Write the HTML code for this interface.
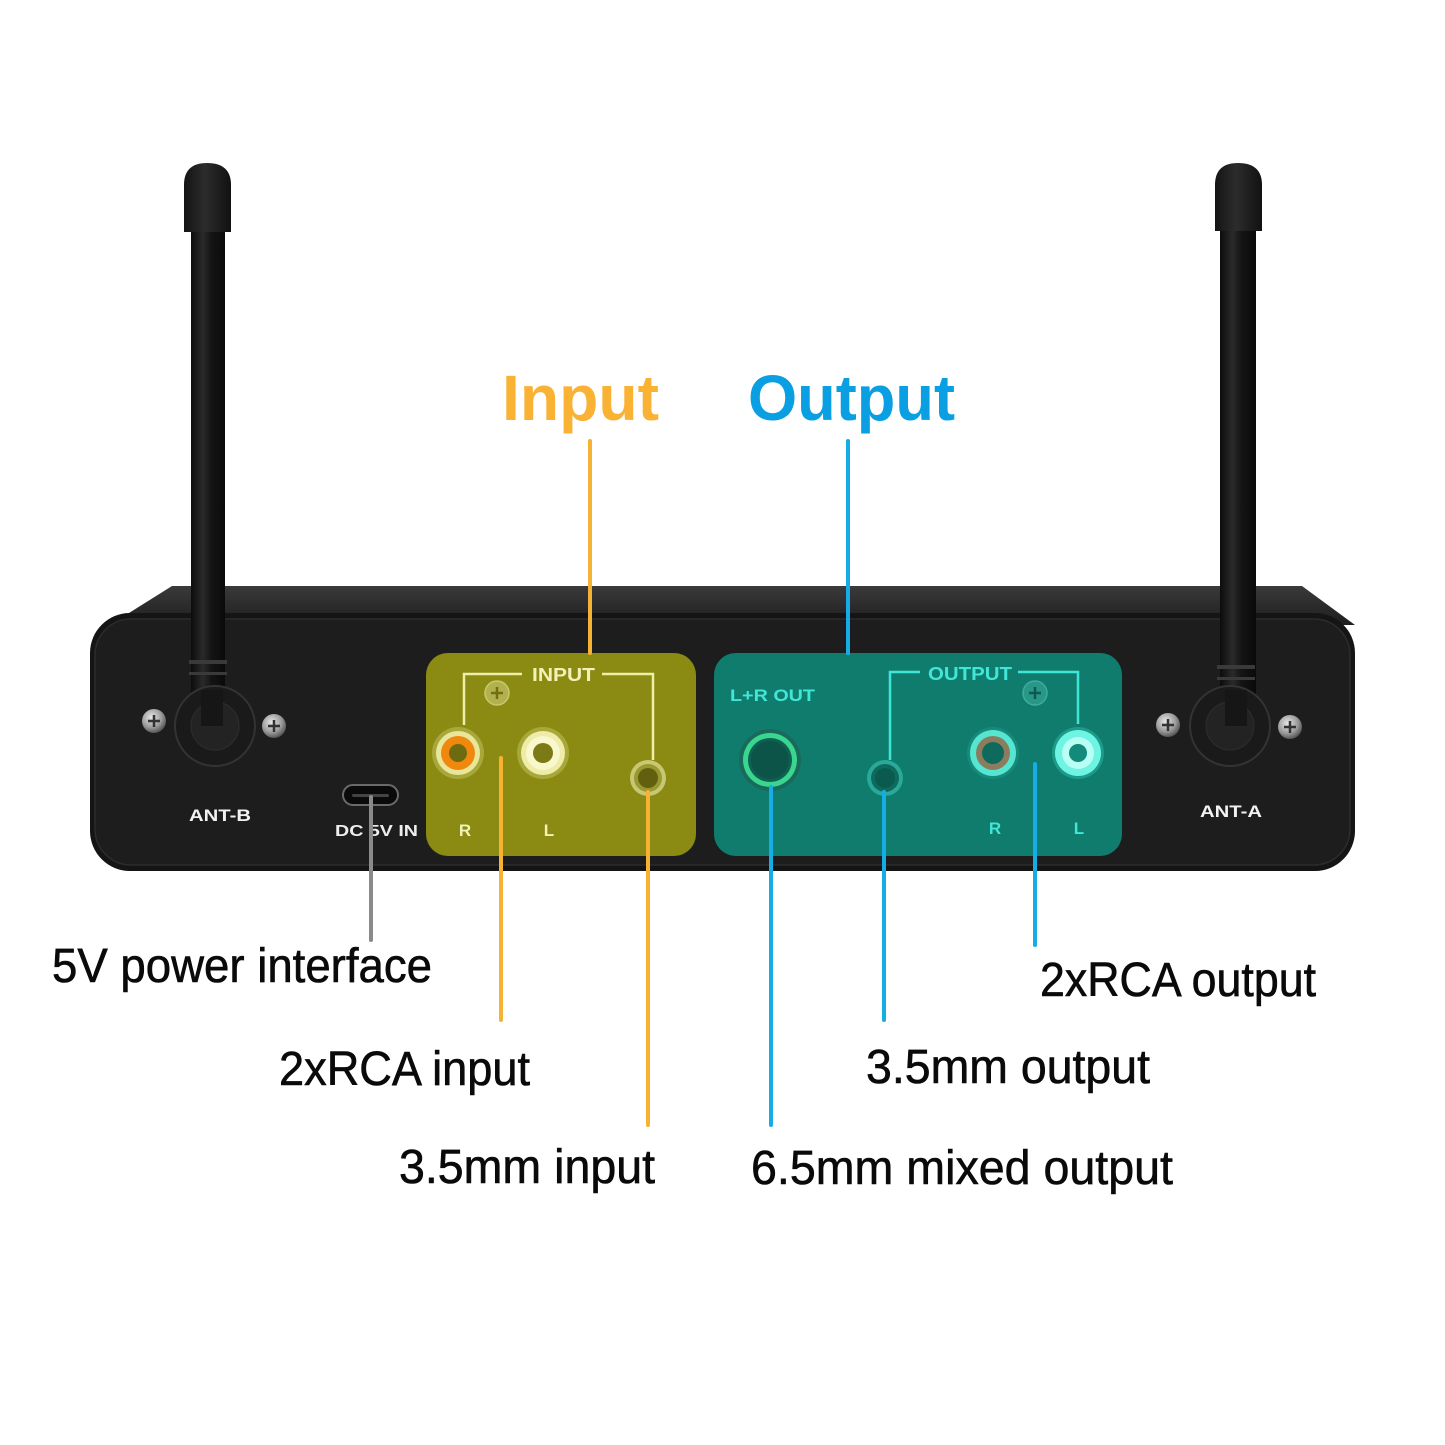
<!DOCTYPE html>
<html><head><meta charset="utf-8"><style>
html,body{margin:0;padding:0;background:#fff;}
svg{display:block;}
</style></head><body>
<svg width="1445" height="1445" viewBox="0 0 1445 1445" xmlns="http://www.w3.org/2000/svg">
<defs>
<linearGradient id="top" x1="0" y1="0" x2="0" y2="1"><stop offset="0" stop-color="#3a3a3a"/><stop offset="1" stop-color="#1e1e1e"/></linearGradient>
<linearGradient id="shaft" x1="0" y1="0" x2="1" y2="0"><stop offset="0" stop-color="#0c0c0c"/><stop offset="0.35" stop-color="#2a2a2a"/><stop offset="0.6" stop-color="#141414"/><stop offset="1" stop-color="#0a0a0a"/></linearGradient>
<linearGradient id="cap" x1="0" y1="0" x2="1" y2="0"><stop offset="0" stop-color="#141414"/><stop offset="0.45" stop-color="#2c2c2c"/><stop offset="1" stop-color="#111"/></linearGradient>
<radialGradient id="screw" cx="0.4" cy="0.35" r="0.7"><stop offset="0" stop-color="#e8e8e8"/><stop offset="0.6" stop-color="#9a9a9a"/><stop offset="1" stop-color="#4a4a4a"/></radialGradient>
</defs>
<rect width="1445" height="1445" fill="#fff"/>

<!-- device top surface -->
<polygon points="110,625 172,586 1302,586 1355,625" fill="url(#top)"/>
<!-- front face -->
<rect x="90" y="613" width="1265" height="258" rx="40" fill="#151515"/>
<rect x="95" y="619" width="1255" height="246" rx="36" fill="#1d1d1d" stroke="#2c2c2c" stroke-width="1.5"/>

<!-- antennas -->
<g>
<rect x="191" y="225" width="34" height="470" fill="url(#shaft)"/>
<path d="M184,232 L184,185 Q184,163 207,163 Q231,163 231,185 L231,232 Z" fill="url(#cap)"/>
<rect x="189" y="660" width="38" height="4" fill="#3a3a3a"/>
<rect x="189" y="672" width="38" height="3" fill="#3a3a3a"/>
<rect x="1220" y="225" width="36" height="470" fill="url(#shaft)"/>
<path d="M1215,231 L1215,185 Q1215,163 1238,163 Q1262,163 1262,185 L1262,231 Z" fill="url(#cap)"/>
<rect x="1217" y="665" width="38" height="4" fill="#3a3a3a"/>
<rect x="1217" y="677" width="38" height="3" fill="#3a3a3a"/>
</g>

<!-- antenna bases -->
<circle cx="215" cy="726" r="40" fill="#1a1a1a" stroke="#333" stroke-width="2"/>
<circle cx="215" cy="726" r="24" fill="#232323" stroke="#2e2e2e"/>
<rect x="201" y="690" width="22" height="36" fill="#161616"/>
<circle cx="1230" cy="726" r="40" fill="#1a1a1a" stroke="#333" stroke-width="2"/>
<circle cx="1230" cy="726" r="24" fill="#232323" stroke="#2e2e2e"/>
<rect x="1225" y="690" width="22" height="36" fill="#161616"/>

<!-- screws -->
<g>
<circle cx="154" cy="721" r="12" fill="url(#screw)"/>
<circle cx="274" cy="726" r="12" fill="url(#screw)"/>
<circle cx="1168" cy="725" r="12" fill="url(#screw)"/>
<circle cx="1290" cy="727" r="12" fill="url(#screw)"/>
<g stroke="#333" stroke-width="2.5">
<line x1="148" y1="721" x2="160" y2="721"/><line x1="154" y1="715" x2="154" y2="727"/>
<line x1="268" y1="726" x2="280" y2="726"/><line x1="274" y1="720" x2="274" y2="732"/>
<line x1="1162" y1="725" x2="1174" y2="725"/><line x1="1168" y1="719" x2="1168" y2="731"/>
<line x1="1284" y1="727" x2="1296" y2="727"/><line x1="1290" y1="721" x2="1290" y2="733"/>
</g>
</g>

<!-- USB-C -->
<rect x="343" y="785" width="55" height="20" rx="10" fill="#0a0a0a" stroke="#6a6a6a" stroke-width="2"/>
<rect x="352" y="794" width="37" height="3" rx="1.5" fill="#444"/>

<g font-family="Liberation Sans, Arial, sans-serif" font-weight="bold">
<text x="189" y="821" font-size="17" fill="#f2f2f2" textLength="62" lengthAdjust="spacingAndGlyphs">ANT-B</text>
<text x="1200" y="817" font-size="17" fill="#f2f2f2" textLength="62" lengthAdjust="spacingAndGlyphs">ANT-A</text>
<text x="335" y="836" font-size="16" fill="#eeeeee" textLength="83" lengthAdjust="spacingAndGlyphs">DC 5V IN</text>
</g>

<!-- input panel -->
<rect x="426" y="653" width="270" height="203" rx="22" fill="#8b8a13"/>
<g fill="none" stroke="#eeeea8" stroke-width="2.5">
<polyline points="464,725 464,674 522,674"/>
<polyline points="602,674 653,674 653,760"/>
</g>
<g font-family="Liberation Sans, Arial, sans-serif" font-weight="bold" fill="#f2f2b8">
<text x="532" y="681" font-size="18" textLength="63" lengthAdjust="spacingAndGlyphs">INPUT</text>
<text x="465" y="836" font-size="17" text-anchor="middle">R</text>
<text x="549" y="836" font-size="17" text-anchor="middle">L</text>
</g>
<circle cx="497" cy="693" r="12" fill="#b2b150" stroke="#c8c86a" stroke-width="1.5"/>
<path d="M491,693 h12 M497,687 v12" stroke="#70700e" stroke-width="2.5"/>
<!-- input R rca -->
<circle cx="458" cy="753" r="26" fill="#a8a73a"/>
<circle cx="458" cy="753" r="22" fill="#e8e69a"/>
<circle cx="458" cy="753" r="17" fill="#f0880e"/>
<circle cx="458" cy="753" r="9" fill="#6e6a10"/>
<!-- input L rca -->
<circle cx="543" cy="753" r="26" fill="#a8a73a"/>
<circle cx="543" cy="753" r="22" fill="#eeeca8"/>
<circle cx="543" cy="753" r="17" fill="#f8f8cc"/>
<circle cx="543" cy="753" r="10" fill="#7c7a16"/>
<!-- input 3.5 -->
<circle cx="648" cy="778" r="18" fill="#c8c874"/>
<circle cx="648" cy="778" r="14" fill="#9a9830"/>
<circle cx="648" cy="778" r="10" fill="#62600e"/>

<!-- output panel -->
<rect x="714" y="653" width="408" height="203" rx="22" fill="#107c6d"/>
<g fill="none" stroke="#3de6d6" stroke-width="2.5">
<polyline points="890,760 890,672 920,672"/>
<polyline points="1018,672 1078,672 1078,724"/>
</g>
<g font-family="Liberation Sans, Arial, sans-serif" font-weight="bold" fill="#40e6d6">
<text x="928" y="680" font-size="18" textLength="84" lengthAdjust="spacingAndGlyphs">OUTPUT</text>
<text x="730" y="701" font-size="17" textLength="85" lengthAdjust="spacingAndGlyphs">L+R OUT</text>
<text x="995" y="834" font-size="17" text-anchor="middle">R</text>
<text x="1079" y="834" font-size="17" text-anchor="middle">L</text>
</g>
<circle cx="1035" cy="693" r="12" fill="#2a9686" stroke="#3aae9e" stroke-width="1.5"/>
<path d="M1029,693 h12 M1035,687 v12" stroke="#0c5a50" stroke-width="2.5"/>
<!-- 6.5mm -->
<circle cx="770" cy="760" r="31" fill="#1a6a5c"/>
<circle cx="770" cy="760" r="27" fill="#38d68e"/>
<circle cx="770" cy="760" r="22" fill="#0f6052"/>
<circle cx="770" cy="760" r="19" fill="#0c5448"/>
<!-- 3.5 out -->
<circle cx="885" cy="778" r="18" fill="#2aa89a"/>
<circle cx="885" cy="778" r="14" fill="#0e6a5d"/>
<circle cx="885" cy="778" r="10" fill="#0b5a4f"/>
<!-- R out rca -->
<circle cx="993" cy="753" r="26" fill="#188a7b"/>
<circle cx="993" cy="753" r="23" fill="#55e6d2"/>
<circle cx="993" cy="753" r="17" fill="#8c7c5e"/>
<circle cx="993" cy="753" r="11" fill="#0f6a5e"/>
<!-- L out rca -->
<circle cx="1078" cy="753" r="26" fill="#1c9a8a"/>
<circle cx="1078" cy="753" r="23" fill="#6ef4e2"/>
<circle cx="1078" cy="753" r="16" fill="#b8fff4"/>
<circle cx="1078" cy="753" r="9" fill="#138a7a"/>

<!-- connectors -->
<g stroke-width="4" stroke-linecap="round">
<line x1="590" y1="441" x2="590" y2="653" stroke="#f7b234"/>
<line x1="848" y1="441" x2="848" y2="653" stroke="#16ade6"/>
<line x1="371" y1="797" x2="371" y2="940" stroke="#8a8a8a"/>
<line x1="501" y1="758" x2="501" y2="1020" stroke="#f7b234"/>
<line x1="648" y1="792" x2="648" y2="1125" stroke="#f7b234"/>
<line x1="771" y1="787" x2="771" y2="1125" stroke="#16ade6"/>
<line x1="884" y1="792" x2="884" y2="1020" stroke="#16ade6"/>
<line x1="1035" y1="764" x2="1035" y2="945" stroke="#16ade6"/>
</g>

<!-- headings -->
<g font-family="Liberation Sans, Arial, sans-serif" font-weight="bold" font-size="64">
<text x="502" y="420" fill="#f9b233" textLength="157" lengthAdjust="spacingAndGlyphs">Input</text>
<text x="748" y="420" fill="#0a9fe2" textLength="207" lengthAdjust="spacingAndGlyphs">Output</text>
</g>

<!-- labels -->
<g font-family="Liberation Sans, Arial, sans-serif" font-size="48" fill="#0a0a0a" stroke="#0a0a0a" stroke-width="0.6">
<text x="52" y="982" textLength="380" lengthAdjust="spacingAndGlyphs">5V power interface</text>
<text x="279" y="1085" textLength="251" lengthAdjust="spacingAndGlyphs">2xRCA input</text>
<text x="399" y="1183" textLength="256" lengthAdjust="spacingAndGlyphs">3.5mm input</text>
<text x="1040" y="996" textLength="276" lengthAdjust="spacingAndGlyphs">2xRCA output</text>
<text x="866" y="1083" textLength="284" lengthAdjust="spacingAndGlyphs">3.5mm output</text>
<text x="751" y="1184" textLength="422" lengthAdjust="spacingAndGlyphs">6.5mm mixed output</text>
</g>
</svg>
</body></html>
